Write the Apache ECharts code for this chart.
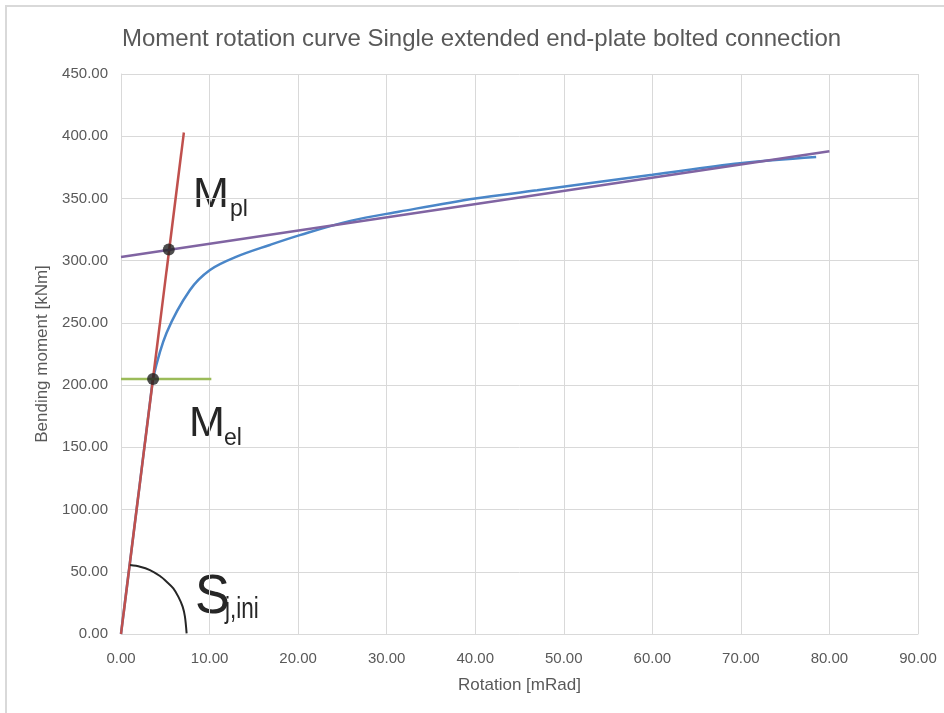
<!DOCTYPE html>
<html>
<head>
<meta charset="utf-8">
<script src="https://cdn.jsdelivr.net/npm/echarts@6/dist/echarts.min.js"></script>
<style>
  html, body { margin: 0; padding: 0; background: #fff; }
  #chart { width: 944px; height: 713px; }
</style>
</head>
<body>
<div id="chart"></div>
<script>
// curva medida (rotacion en mRad, momento en kNm)
const rotation = [0, 3.6, 5.15, 7.79, 10.05, 13.06, 16.8, 20.2, 25.9, 31.5, 40.0, 47.0, 54.1, 60.0, 69.9, 78.5];
const moment = [0, 205, 242, 276.4, 292.5, 303.2, 312.6, 320.5, 332, 339.5, 350, 356.5, 363.5, 369, 378.2, 383.3];

// rigidez inicial Sj,ini
const stiffX = [0, 7.1];
const stiffY = [0, 403];

// rama plastica
const plasticX = [0, 80];
const plasticY = [303, 388];

// limite elastico
const elasticX = [0, 10.2];
const elasticY = [205, 205];

// puntos Mel y Mpl
const pointsX = [3.62, 5.4];
const pointsY = [205, 309];

// arco del angulo
const arcX = [1.02, 2.15, 3.27, 4.40, 5.16, 5.91, 6.47, 6.96, 7.22, 7.41];
const arcY = [55.4, 54.1, 51.4, 46.6, 42.0, 36.7, 30.0, 22.0, 13.9, 0.5];

const xTicks = [0, 10, 20, 30, 40, 50, 60, 70, 80, 90];
const yTicks = [0, 50, 100, 150, 200, 250, 300, 350, 400, 450];

const zip = (xs, ys) => xs.map((x, i) => [x, ys[i]]);

const font = 'Liberation Sans';
const chart = echarts.init(document.getElementById('chart'));

const lineSeries = (name, data, color, width, smooth) => ({
    name: name,
    type: 'line',
    data: data,
    showSymbol: false,
    smooth: smooth || false,
    lineStyle: { color: color, width: width },
    silent: true,
    animation: false
});

// texto de las etiquetas M y S (sx = estrechamiento horizontal)
const labelText = (text, x, y, size, sx) => ({
    type: 'text',
    x: x,
    y: y,
    scaleX: sx || 1,
    style: { text: text, fill: '#262626', font: size + 'px "Liberation Sans", Arial, sans-serif', textVerticalAlign: 'top' }
});

const curve = zip(rotation, moment);

chart.setOption({
    animation: false,
    title: {
        text: 'Moment rotation curve Single extended end-plate bolted connection',
        left: 117,
        top: 22,
        textStyle: { fontFamily: font, fontSize: 24, fontWeight: 'normal', color: '#595959' }
    },
    grid: { left: 121, right: 26, top: 74, bottom: 79 },
    xAxis: {
        type: 'value',
        min: xTicks[0],
        max: xTicks[xTicks.length - 1],
        interval: 10,
        name: 'Rotation [mRad]',
        nameLocation: 'middle',
        nameGap: 43,
        nameTextStyle: { fontFamily: font, fontSize: 17, color: '#595959' },
        axisLine: { show: true, lineStyle: { color: '#d9d9d9', width: 1 } },
        axisTick: { show: false },
        axisLabel: { margin: 17, fontFamily: font, fontSize: 15, color: '#595959', formatter: v => v.toFixed(2) },
        splitLine: { show: true, lineStyle: { color: '#d9d9d9', width: 1 } }
    },
    yAxis: {
        type: 'value',
        min: yTicks[0],
        max: yTicks[yTicks.length - 1],
        interval: 50,
        name: 'Bending moment [kNm]',
        nameLocation: 'middle',
        nameGap: 64,
        nameTextStyle: { fontFamily: font, fontSize: 17, color: '#595959' },
        axisLine: { show: true, lineStyle: { color: '#d9d9d9', width: 1 } },
        axisTick: { show: false },
        axisLabel: { margin: 13, fontFamily: font, fontSize: 15, color: '#595959', formatter: v => v.toFixed(2) },
        splitLine: { show: true, lineStyle: { color: '#d9d9d9', width: 1 } }
    },
    series: [
        // tramo elastico recto + tramo curvo
        lineSeries('Curve', curve.slice(0, 2), '#4a86c8', 2.5),
        lineSeries('Curve', curve.slice(1), '#4a86c8', 2.5, 0.35),
        lineSeries('Sj,ini', zip(stiffX, stiffY), '#c0504d', 2.5),
        lineSeries('Plastic', zip(plasticX, plasticY), '#8064a2', 2.5),
        lineSeries('Elastic', zip(elasticX, elasticY), '#9bbb59', 2.5),
        lineSeries('Arc', zip(arcX, arcY), '#262626', 2, 0.3),
        {
            name: 'Points',
            type: 'scatter',
            data: zip(pointsX, pointsY),
            symbolSize: 12,
            itemStyle: { color: '#222222' },
            silent: true,
            z: 5
        }
    ],
    graphic: [
        {
            type: 'rect',
            shape: { x: 6, y: 6, width: 1000, height: 1000 },
            style: { fill: 'none', stroke: '#d9d9d9', lineWidth: 2 },
            silent: true
        },
        labelText('M', 193, 174, 43),
        labelText('pl', 230, 198, 23),
        labelText('M', 189, 403, 43),
        labelText('el', 224, 427, 23),
        labelText('S', 195, 570, 55, 0.95),
        labelText('j,ini', 225, 595, 30, 0.75)
    ]
});
</script>
</body>
</html>
